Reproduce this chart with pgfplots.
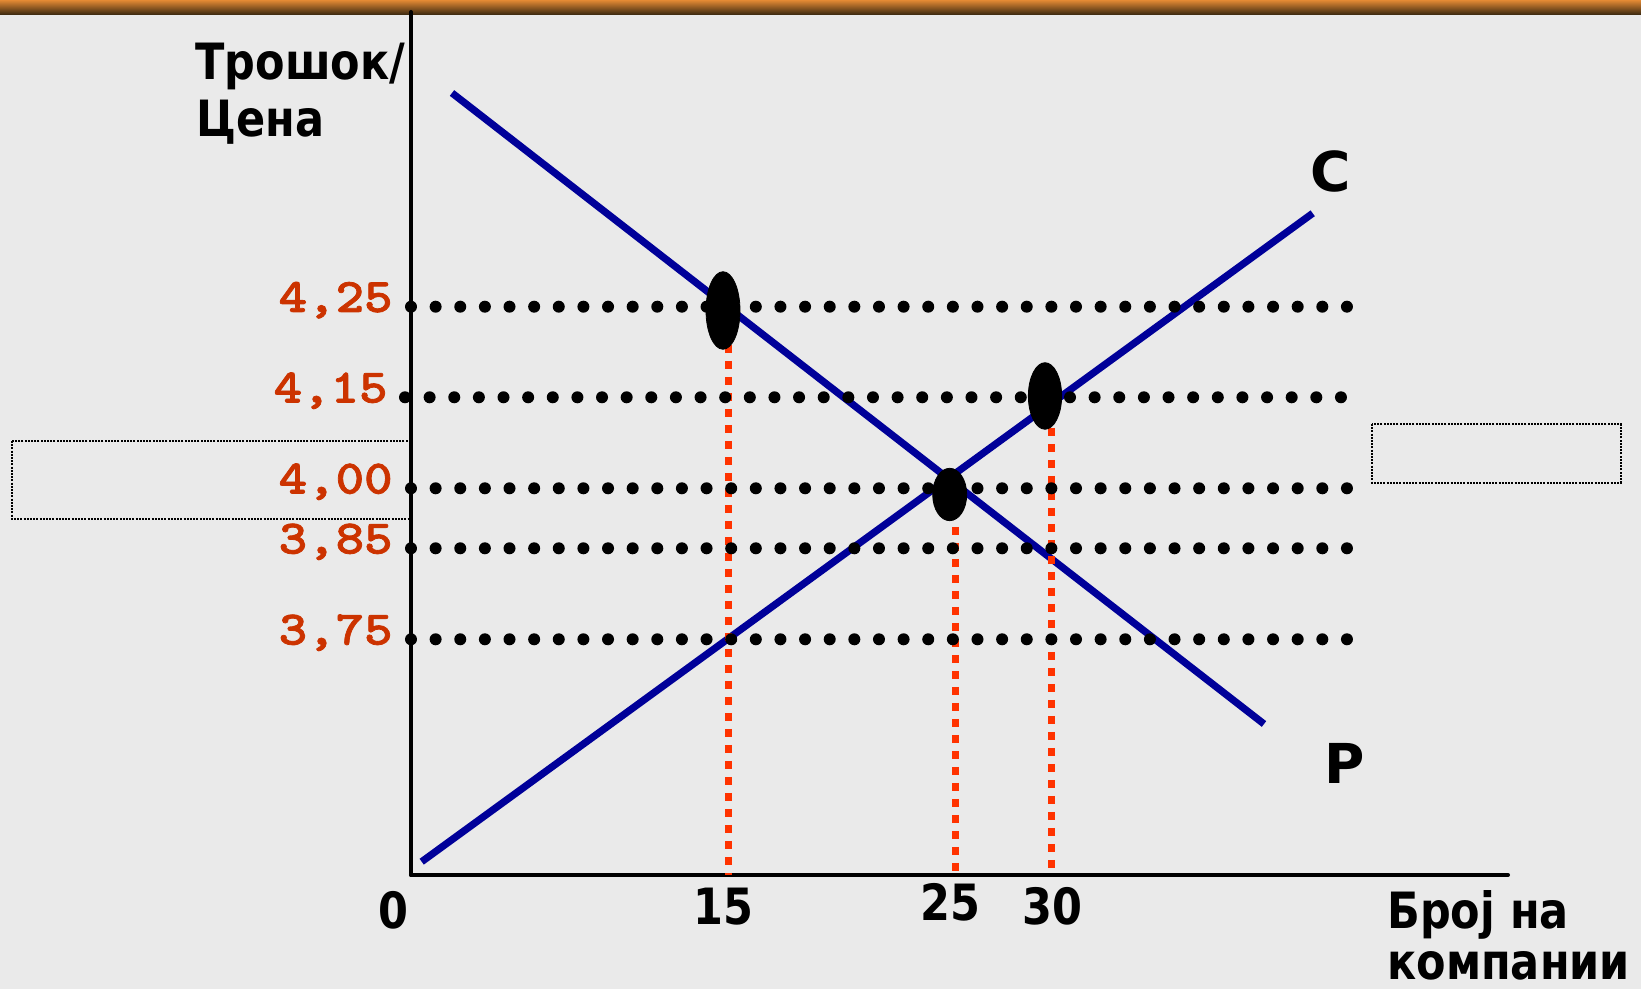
\documentclass[border=0pt]{standalone}
\usepackage{fontspec}
\usepackage{pgfplots}
\pgfplotsset{compat=1.18}
\newfontfamily\labfont[FakeStretch=0.86]{DejaVu Sans}
\newfontfamily\cpfont{DejaVu Sans}
\newfontfamily\tickfont{lmmonolt10-bold.otf}[FakeStretch=1.13, FakeBold=1.6]
\definecolor{bg}{RGB}{234,234,234}
\definecolor{navy}{RGB}{0,0,153}
\definecolor{reddash}{RGB}{255,51,0}
\definecolor{ticklab}{RGB}{204,51,0}
\definecolor{barTop}{RGB}{228,138,52}
\definecolor{barMid}{RGB}{170,100,35}
\definecolor{barBot}{RGB}{55,38,15}
\begin{document}
\begin{tikzpicture}
% 1 px of the reference = 0.5pt; origin of the axis at px (411,875)
\useasboundingbox (-205.5pt,-57pt) rectangle (615pt,437.5pt);
\fill[bg] (-205.5pt,-57pt) rectangle (615pt,437.5pt);
\shade[top color=barTop, middle color=barMid, bottom color=barBot] (-205.5pt,430pt) rectangle (615pt,437.5pt);
\draw[black, line width=1pt, dash pattern=on 1pt off 0.6pt] (-199.35pt,217pt) rectangle (-0.5pt,177.85pt);
\draw[black, line width=1pt, dash pattern=on 1pt off 0.6pt] (480.35pt,225.5pt) rectangle (604.85pt,196.15pt);
\begin{axis}[
  at={(0pt,0pt)}, anchor=origin,
  x=0.5pt, y=0.5pt,
  xmin=0, xmax=1097, ymin=0, ymax=863,
  axis lines=left,
  axis line style={line width=2pt, black, line cap=round, -},
  x axis line style={-}, y axis line style={-},
  every outer x axis line/.append style={-},
  every outer y axis line/.append style={-},
  clip=false,
  tick style={draw=none},
  major tick length=0pt,
  xtick={312,539,641},
  xticklabels={15,\raisebox{2pt}{25},30},
  xticklabel style={font=\labfont\bfseries\fontsize{25pt}{25pt}\selectfont, anchor=base, inner sep=0pt, yshift=-24.7pt},
  ytick={568.3,477.7,386.7,326.7,235.7},
  yticklabels={{4,25},{4,15\hspace*{2.5pt}},{4,00},{3,85},{3,75}},
  yticklabel style={font=\tickfont\fontsize{24pt}{24pt}\selectfont, text=ticklab, anchor=base east, inner sep=0pt, xshift=-9pt, yshift=-2.6pt},
]
% demand (P) and supply (C)
\addplot[navy, line width=3.6pt] coordinates {(41,782) (853,151)};
\addplot[navy, line width=3.6pt] coordinates {(10.7,13.3) (901.7,661.7)};
% red dashed drop lines
\addplot[reddash, line width=3.5pt, dash pattern=on 4pt off 4pt] coordinates {(317.7,530) (317.7,0)};
\addplot[reddash, line width=3.5pt, dash pattern=on 4pt off 4pt] coordinates {(544.3,348) (544.3,4)};
\addplot[reddash, line width=3.5pt, dash pattern=on 4pt off 4pt] coordinates {(640.7,447) (640.7,0)};
% dotted price levels
\addplot[black, line width=6pt, line cap=round, dash pattern=on 0pt off 12.315pt] coordinates {(0,568.3) (936,568.3)};
\addplot[black, line width=6pt, line cap=round, dash pattern=on 0pt off 12.315pt] coordinates {(-6,477.7) (930,477.7)};
\addplot[black, line width=6pt, line cap=round, dash pattern=on 0pt off 12.315pt] coordinates {(0,386.7) (936,386.7)};
\addplot[black, line width=6pt, line cap=round, dash pattern=on 0pt off 12.315pt] coordinates {(0,326.7) (936,326.7)};
\addplot[black, line width=6pt, line cap=round, dash pattern=on 0pt off 12.315pt] coordinates {(0,235.7) (936,235.7)};
% points
\addplot[only marks, mark=*, mark size=19.4pt, mark options={xscale=0.438, fill=black, draw=none}] coordinates {(312,564.5)};
\addplot[only marks, mark=*, mark size=16.65pt, mark options={xscale=0.5, fill=black, draw=none}] coordinates {(634,479)};
\addplot[only marks, mark=*, mark size=13.1pt, mark options={xscale=0.649, fill=black, draw=none}] coordinates {(538.7,380.5)};
% texts
\node[anchor=base, inner sep=0pt, font=\labfont\bfseries\fontsize{25pt}{25pt}\selectfont] at (axis cs:-18,-53) {0};
\node[anchor=base west, inner sep=0pt, font=\labfont\bfseries\fontsize{25pt}{25pt}\selectfont] at (axis cs:-216,795) {Трошок/};
\node[anchor=base west, inner sep=0pt, font=\labfont\bfseries\fontsize{25pt}{25pt}\selectfont] at (axis cs:-215,738) {Цена};
\node[anchor=base west, inner sep=0pt, font=\labfont\bfseries\fontsize{25pt}{25pt}\selectfont] at (axis cs:976,-53) {Број на};
\node[anchor=base west, inner sep=0pt, font=\labfont\bfseries\fontsize{25pt}{25pt}\selectfont] at (axis cs:976,-104) {компании};
\node[anchor=base west, inner sep=0pt, font=\cpfont\bfseries\fontsize{27.5pt}{27.5pt}\selectfont] at (axis cs:899,683) {С};
\node[anchor=base west, inner sep=0pt, font=\cpfont\bfseries\fontsize{27.5pt}{27.5pt}\selectfont] at (axis cs:913,91) {Р};
\end{axis}
\end{tikzpicture}
\end{document}
